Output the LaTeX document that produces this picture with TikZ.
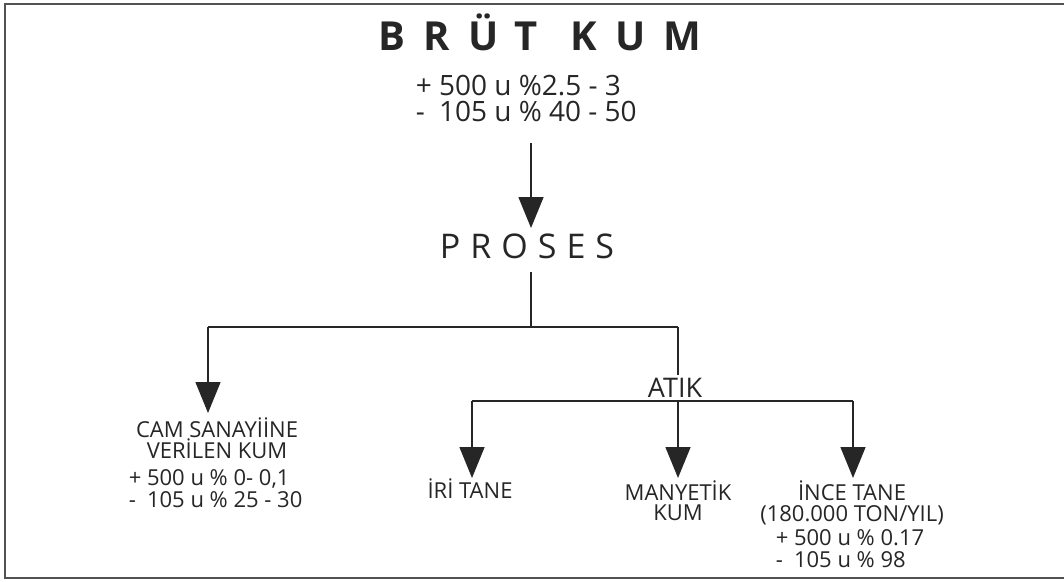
\documentclass[tikz,border=0pt]{standalone}
\usepackage{fontspec}
\setmainfont{Open Sans}
\usetikzlibrary{arrows.meta}
\definecolor{ink}{gray}{0.15}
\begin{document}
\begin{tikzpicture}[x=1pt,y=-1pt,line width=1.5pt,
  conn/.style={draw=ink,line width=1.5pt},
  arr/.style={conn,-{Triangle[width=25pt,length=31pt]}},
  lbl/.style={inner sep=0pt,text=ink,font=\fontsize{22}{22}\selectfont},
  sub/.style={inner sep=0pt,text=ink,font=\fontsize{28}{28}\selectfont}]
\useasboundingbox (0,0) rectangle (1064,581);
\draw[draw=ink!80,line width=1.5pt] (1064,4) -- (5,4) -- (5,578) -- (1064,578);

% title block
\node[inner sep=0pt,anchor=base,text=ink,font=\fontsize{40}{40}\selectfont\bfseries] (title) at (540,50)
  {B\kern18pt R\kern18pt Ü\kern16pt T\kern33pt K\kern18pt U\kern18pt M};
\node[sub,anchor=base west] (t1) at (415,95) {+ 500 u \%2.5 - 3};
\node[sub,anchor=base west] (t2) at (415,121) {\rlap{-}\phantom{+} 105 u \% 40 - 50};

% proses
\node[inner sep=0pt,anchor=base,text=ink,font=\fontsize{34}{34}\selectfont] (proses) at (527,258)
  {P\kern10pt R\kern10pt O\kern10pt S\kern10pt E\kern10pt S};

\coordinate (a0) at (531,143);
\coordinate (a0t) at (531,228);
\draw[arr] (a0) -- (a0t);

\coordinate (p0) at (531,272);
\coordinate (j1) at (531,327);
\coordinate (jl) at (208,327);
\coordinate (jr) at (678,327);
\coordinate (jlt) at (208,413);
\draw[conn] (p0) -- (j1);
\draw[conn] (jl) -- (jr);
\draw[arr] (jl) -- (jlt);

% left output
\node[lbl,anchor=base] (cam1) at (217,437) {CAM SANAYİİNE};
\node[lbl,anchor=base] (cam2) at (217,458) {VERİLEN KUM};
\node[lbl,anchor=base west] (cam3) at (128,485) {+ 500 u \% 0- 0,1};
\node[lbl,anchor=base west] (cam4) at (128,507) {\rlap{-}\phantom{+} 105 u \% 25 - 30};

% atik
\node[inner sep=0pt,anchor=base,text=ink,font=\fontsize{27}{27}\selectfont] (atik) at (675,397) {ATIK};
\coordinate (atop) at (678,375);
\draw[conn] (jr) -- (atop);
\coordinate (b1) at (472,401);
\coordinate (b2) at (678,401);
\coordinate (b3) at (853,401);
\draw[conn] (b1) -- (b3);
\coordinate (b1t) at (472,478);
\coordinate (b2t) at (678,478);
\coordinate (b3t) at (853,478);
\draw[arr] (b1) -- (b1t);
\draw[arr] (b2) -- (b2t);
\draw[arr] (b3) -- (b3t);

\node[lbl,anchor=base] (iri) at (470,498) {İRİ TANE};
\node[lbl,anchor=base] (man1) at (678,500) {MANYETİK};
\node[lbl,anchor=base] (man2) at (678,520) {KUM};
\node[lbl,anchor=base] (ince1) at (852,500) {İNCE TANE};
\node[lbl,anchor=base] (ince2) at (852,521) {(180.000 TON/YIL)};
\node[lbl,anchor=base west] (ince3) at (775,545) {+ 500 u \% 0.17};
\node[lbl,anchor=base west] (ince4) at (775,567) {\rlap{-}\phantom{+} 105 u \% 98};
\end{tikzpicture}
\end{document}
